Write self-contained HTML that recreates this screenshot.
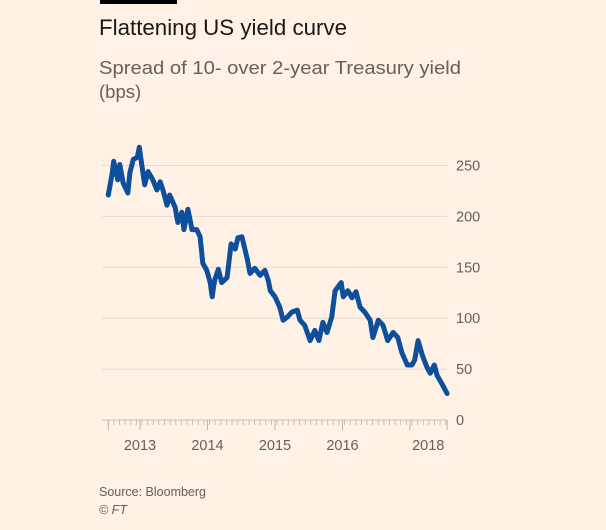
<!DOCTYPE html>
<html><head><meta charset="utf-8"><style>
body{margin:0;background:#fff1e5;width:606px;height:530px;overflow:hidden;font-family:"Liberation Sans",sans-serif;}
</style></head><body>
<svg width="606" height="530" style="position:absolute;left:0;top:0">
<rect x="100" y="0" width="77" height="4" fill="#000"/>
<text x="99" y="35" font-size="22" fill="#1a1817" textLength="248" lengthAdjust="spacingAndGlyphs">Flattening US yield curve</text>
<text x="99" y="74" font-size="18.5" fill="#66605c" textLength="362" lengthAdjust="spacingAndGlyphs">Spread of 10- over 2-year Treasury yield</text>
<text x="99" y="98" font-size="18.5" fill="#66605c">(bps)</text>
<g id="grid"></g>
<g id="xaxis"></g>
<path id="line" fill="none" stroke="#0d4f9a" stroke-width="5" stroke-linejoin="round" stroke-linecap="round"/>
<text x="99" y="496" font-size="12.5" fill="#66605c">Source: Bloomberg</text>
<text x="99" y="514" font-size="12.5" font-style="italic" fill="#66605c">© FT</text>
</svg>
<script>
const dates=[2012.53,2012.59,2012.61,2012.67,2012.70,2012.75,2012.82,2012.85,2012.90,2012.96,2012.99,2013.03,2013.07,2013.12,2013.19,2013.25,2013.30,2013.34,2013.40,2013.44,2013.52,2013.56,2013.62,2013.65,2013.71,2013.77,2013.84,2013.89,2013.93,2013.99,2014.04,2014.07,2014.09,2014.11,2014.16,2014.21,2014.29,2014.35,2014.41,2014.45,2014.51,2014.59,2014.63,2014.70,2014.78,2014.85,2014.90,2014.93,2015.00,2015.07,2015.12,2015.18,2015.25,2015.33,2015.37,2015.44,2015.52,2015.59,2015.65,2015.71,2015.77,2015.84,2015.89,2015.98,2016.01,2016.08,2016.14,2016.20,2016.26,2016.33,2016.41,2016.45,2016.53,2016.60,2016.67,2016.75,2016.82,2016.88,2016.96,2017.03,2017.07,2017.12,2017.18,2017.25,2017.30,2017.36,2017.40,2017.47,2017.55];
const spread=[221,243,254,236,251,233,223,243,256,258,268,249,231,244,236,226,234,226,211,221,209,194,204,187,207,187,187,180,154,147,135,121,131,138,148,135,140,173,168,179,180,158,144,149,142,147,137,127,121,111,98,101,106,108,98,93,78,88,78,96,86,101,127,135,121,127,120,126,111,106,98,81,98,93,78,86,81,66,54,54,59,78,64,52,46,54,44,36,26];
const yTicks=[0,50,100,150,200,250];
const xLabelPos=[2013,2014,2015,2016,2017.27];
const xLabels=["2013","2014","2015","2016","2018"];
const majorTicks=[2013,2014,2015,2016,2017];
const xStart=2012.53, xEnd=2017.55;
const NS="http://www.w3.org/2000/svg";
const X=t=>140+(t-2013)*67.5;
const Y=v=>420-v*1.018;
function mk(tag,attrs,parent){const e=document.createElementNS(NS,tag);for(const k in attrs)e.setAttribute(k,attrs[k]);parent.appendChild(e);return e;}
const grid=document.getElementById('grid'),xa=document.getElementById('xaxis');
yTicks.forEach(v=>{
 if(v>0){const l=mk('line',{x1:102,x2:447,y1:Y(v),y2:Y(v),stroke:'#e6d9ce','stroke-width':1},grid);
 
 }
 const t=mk('text',{x:456,y:Y(v)+5,'font-size':14.5,fill:'#66605c'},grid);t.textContent=v;
 
 
});
const ax=mk('line',{x1:102,x2:447,y1:420,y2:420,stroke:'#c9bdb2','stroke-width':1},xa);


for(let t=xStart;t<=xEnd+0.001;t+=1/12){
 const tk=mk('line',{x1:X(t),x2:X(t),y1:420,y2:425,stroke:'#c9bdb2','stroke-width':1},xa);
 
 
}
majorTicks.concat([xStart,xEnd]).forEach(t=>{
 const tk=mk('line',{x1:X(t),x2:X(t),y1:420,y2:430,stroke:'#bfb3a8','stroke-width':1},xa);
 
 
});
xLabelPos.forEach((t,i)=>{
 const tx=mk('text',{x:X(t),y:450,'font-size':14.5,fill:'#66605c','text-anchor':'middle'},xa);tx.textContent=xLabels[i];
 
 
});
document.getElementById('line').setAttribute('d',dates.map((t,i)=>(i?'L':'M')+X(t).toFixed(1)+','+Y(spread[i]).toFixed(1)).join(''));
</script>
</body></html>
